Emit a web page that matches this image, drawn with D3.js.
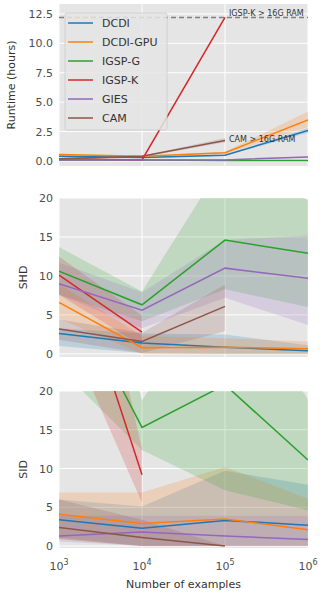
<!DOCTYPE html>
<html>
<head>
<meta charset="utf-8">
<script src="https://cdn.jsdelivr.net/npm/d3@7"></script>
<style>
  body { margin: 0; background: #fff; }
  svg { display: block; font-family: "DejaVu Sans", sans-serif; }
</style>
</head>
<body>
<svg width="327" height="598"></svg>
<script>
const sizes = [1e3, 1e4, 1e5, 1e6];
const methods = ["DCDI", "DCDI-GPU", "IGSP-G", "IGSP-K", "GIES", "CAM"];
const colors = ["#1f77b4", "#ff7f0e", "#2ca02c", "#d62728", "#9467bd", "#8c564b"];

// runtime in hours (null = not run)
const runtimeMean = [
  [0.4, 0.3, 0.5, 2.6],
  [0.55, 0.4, 0.7, 3.5],
  [0.08, 0.08, 0.05, 0.05],
  [0.2, 0.1, 12.2, null],
  [0.1, 0.1, 0.1, 0.35],
  [0.2, 0.4, 1.75, null]
];
const runtimeLow = [
  [0.35, 0.25, 0.45, 2.4],
  [0.5, 0.35, 0.6, 2.9],
  [0.05, 0.05, 0.03, 0.03],
  [0.15, 0.08, 12.2, null],
  [0.08, 0.08, 0.08, 0.3],
  [0.15, 0.35, 1.6, null]
];
const runtimeHigh = [
  [0.45, 0.35, 0.55, 2.8],
  [0.6, 0.45, 0.8, 4.2],
  [0.1, 0.1, 0.07, 0.07],
  [0.25, 0.12, 12.2, null],
  [0.12, 0.12, 0.12, 0.4],
  [0.25, 0.45, 1.95, null]
];

const shdMean = [
  [2.6, 1.4, 0.86, 0.4],
  [6.6, 0.8, 0.86, 0.65],
  [10.6, 6.3, 14.6, 12.9],
  [10.1, 2.8, null, null],
  [9.0, 5.6, 11.0, 9.7],
  [3.2, 1.6, 6.1, null]
];
const shdLow = [
  [1.0, 0.1, 0.0, 0.0],
  [4.5, 0.0, 0.0, 0.0],
  [7.6, 4.2, 8.3, 6.0],
  [7.6, 1.0, null, null],
  [7.6, 3.3, 7.2, 3.7],
  [1.8, 0.1, 2.9, null]
];
const shdHigh = [
  [3.3, 2.6, 2.5, 1.1],
  [9.0, 2.3, 2.0, 1.6],
  [13.7, 8.0, 25.0, 19.7],
  [12.5, 4.9, null, null],
  [11.7, 7.9, 14.6, 15.2],
  [4.4, 2.7, 8.9, null]
];

const sidMean = [
  [3.4, 2.3, 3.3, 2.7],
  [4.1, 2.9, 3.5, 2.1],
  [36.0, 15.3, 20.8, 11.1],
  [42.0, 9.2, null, null],
  [1.3, 1.8, 1.3, 0.86],
  [2.4, 1.1, 0.0, null]
];
const sidLow = [
  [1.1, 0.0, 0.0, 0.0],
  [0.9, 0.0, 0.0, 0.0],
  [23.0, 12.4, 7.2, 4.6],
  [30.0, 5.6, null, null],
  [0.6, 0.0, 0.0, 0.0],
  [0.9, 0.0, 0.0, null]
];
const sidHigh = [
  [6.0, 5.1, 9.7, 7.9],
  [6.9, 6.9, 10.2, 6.1],
  [55.0, 18.8, 35.0, 18.9],
  [60.0, 12.5, null, null],
  [3.9, 3.9, 3.9, 3.9],
  [6.0, 3.4, 0.0, null]
];

const runtimeTicks = [0, 2.5, 5, 7.5, 10, 12.5];
const countTicks = [0, 5, 10, 15, 20];
const ramLimit = 12.2;

const svg = d3.select("svg");
const left = 59, right = 308;
const x = d3.scaleLog().domain([1e3, 1e6]).range([left, right]);

const panels = [
  { id: "rt", top: 4, bottom: 166, domain: [-0.42, 13.34], ticks: runtimeTicks, fmt: d3.format(".1f"),
    title: "Runtime (hours)", titleX: 15, mean: runtimeMean, low: runtimeLow, high: runtimeHigh },
  { id: "shd", top: 198, bottom: 357, domain: [-0.4, 20], ticks: countTicks, fmt: d3.format("d"),
    title: "SHD", titleX: 27, mean: shdMean, low: shdLow, high: shdHigh },
  { id: "sid", top: 391, bottom: 548, domain: [-0.25, 20], ticks: countTicks, fmt: d3.format("d"),
    title: "SID", titleX: 27, mean: sidMean, low: sidLow, high: sidHigh }
];

panels.forEach(function(p) {
  const y = d3.scaleLinear().domain(p.domain).range([p.bottom, p.top]);
  p.y = y;

  svg.append("clipPath").attr("id", "clip-" + p.id)
    .append("rect").attr("x", left).attr("y", p.top)
    .attr("width", right - left).attr("height", p.bottom - p.top);

  svg.append("rect").attr("x", left).attr("y", p.top)
    .attr("width", right - left).attr("height", p.bottom - p.top)
    .attr("fill", "#e5e5e5");

  // grid
  const g = svg.append("g");
  g.selectAll(".gy").data(p.ticks).enter().append("line")
    .attr("x1", left).attr("x2", right)
    .attr("y1", d => y(d)).attr("y2", d => y(d))
    .attr("stroke", "#fff").attr("stroke-width", 1);
  g.selectAll(".gx").data(sizes).enter().append("line")
    .attr("x1", d => x(d)).attr("x2", d => x(d))
    .attr("y1", p.top).attr("y2", p.bottom)
    .attr("stroke", "#fff").attr("stroke-width", 1);

  // y axis labels
  const yAxis = d3.axisLeft(y).tickValues(p.ticks).tickFormat(p.fmt).tickSize(0).tickPadding(6);
  const ya = svg.append("g").attr("transform", "translate(" + left + ",0)").call(yAxis);
  ya.select(".domain").remove();
  ya.selectAll("text").attr("fill", "#4d4d4d").style("font-size", "11px")
    .style("font-family", "DejaVu Sans, sans-serif");

  svg.append("text")
    .attr("transform", "translate(" + p.titleX + "," + ((p.top + p.bottom) / 2) + ") rotate(-90)")
    .attr("text-anchor", "middle")
    .attr("fill", "#333").style("font-size", "11px")
    .text(p.title);

  const plot = svg.append("g").attr("clip-path", "url(#clip-" + p.id + ")");

  methods.forEach(function(m, i) {
    const pts = sizes.map((s, j) => ({ s: s, m: p.mean[i][j], lo: p.low[i][j], hi: p.high[i][j] }))
      .filter(d => d.m !== null);
    const area = d3.area().x(d => x(d.s)).y0(d => y(d.lo)).y1(d => y(d.hi));
    plot.append("path").datum(pts).attr("d", area)
      .attr("fill", colors[i]).attr("fill-opacity", 0.2).attr("stroke", "none");
  });
  methods.forEach(function(m, i) {
    const pts = sizes.map((s, j) => ({ s: s, m: p.mean[i][j] })).filter(d => d.m !== null);
    const line = d3.line().x(d => x(d.s)).y(d => y(d.m));
    plot.append("path").datum(pts).attr("d", line)
      .attr("fill", "none").attr("stroke", colors[i]).attr("stroke-width", 1.5);
  });
});

// runtime panel annotations
const p0 = panels[0];
svg.append("line")
  .attr("x1", left).attr("x2", right)
  .attr("y1", p0.y(ramLimit)).attr("y2", p0.y(ramLimit))
  .attr("stroke", "#808080").attr("stroke-width", 1.5).attr("stroke-dasharray", "5,3");
svg.append("text").attr("x", x(1e5) + 4).attr("y", p0.y(ramLimit) - 1.5)
  .attr("fill", "#333").style("font-size", "8px").text("IGSP-K > 16G RAM");
svg.append("text").attr("x", x(1e5) + 4).attr("y", p0.y(runtimeMean[5][2]) + 2)
  .attr("fill", "#333").style("font-size", "8px").text("CAM > 16G RAM");

// legend
const lg = svg.append("g").attr("transform", "translate(65,13)");
lg.append("rect").attr("width", 102).attr("height", 117).attr("rx", 2)
  .attr("fill", "#e5e5e5").attr("fill-opacity", 0.85)
  .attr("stroke", "#cccccc").attr("stroke-width", 0.8);
methods.forEach(function(m, i) {
  const yy = 10 + i * 19;
  lg.append("line").attr("x1", 3).attr("x2", 28).attr("y1", yy).attr("y2", yy)
    .attr("stroke", colors[i]).attr("stroke-width", 1.5);
  lg.append("text").attr("x", 37).attr("y", yy + 4)
    .attr("fill", "#333").style("font-size", "11px").text(m);
});

// x axis tick labels (bottom panel)
const xl = svg.append("g");
sizes.forEach(function(s) {
  const t = xl.append("text").attr("x", x(s)).attr("y", 570)
    .attr("text-anchor", "middle").attr("fill", "#4d4d4d").style("font-size", "11px");
  t.append("tspan").text("10");
  t.append("tspan").attr("dy", -5).style("font-size", "8px").text(Math.round(Math.log10(s)));
});
svg.append("text").attr("x", (left + right) / 2).attr("y", 588)
  .attr("text-anchor", "middle").attr("fill", "#333").style("font-size", "11px")
  .text("Number of examples");
</script>
</body>
</html>
